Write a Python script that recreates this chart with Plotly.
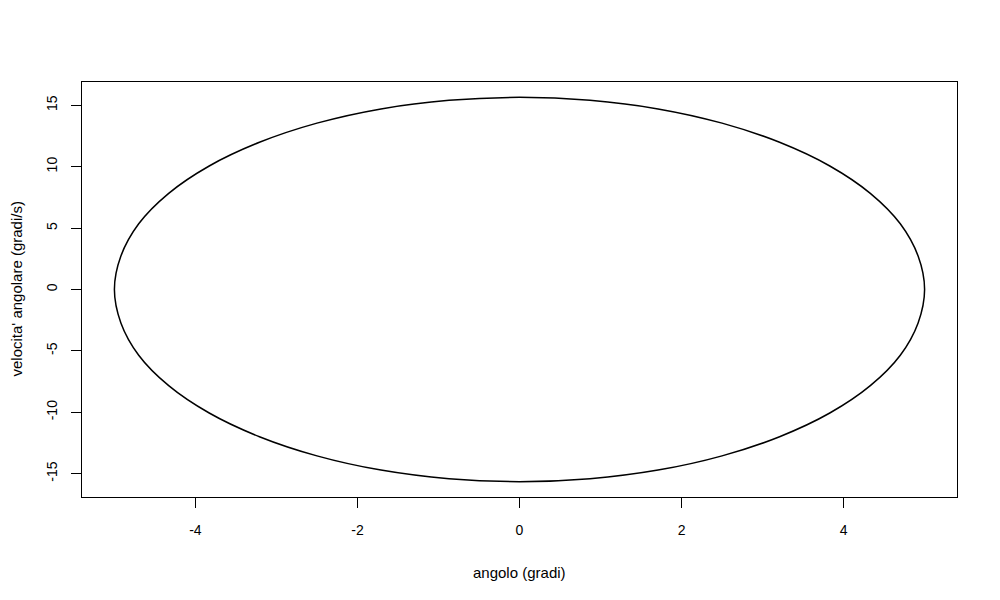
import plotly.graph_objects as go

# Phase portrait values (angle in degrees, angular velocity in deg/s)
angolo = [5.00, 4.92, 4.70, 4.33, 3.83, 3.21, 2.50, 1.71, 0.87, 0.00,
          -0.87, -1.71, -2.50, -3.21, -3.83, -4.33, -4.70, -4.92, -5.00,
          -4.92, -4.70, -4.33, -3.83, -3.21, -2.50, -1.71, -0.87, 0.00,
          0.87, 1.71, 2.50, 3.21, 3.83, 4.33, 4.70, 4.92, 5.00]
velocita = [0.00, 2.72, 5.35, 7.83, 10.06, 11.99, 13.55, 14.71, 15.41, 15.65,
            15.41, 14.71, 13.55, 11.99, 10.06, 7.83, 5.35, 2.72, 0.00,
            -2.72, -5.35, -7.83, -10.06, -11.99, -13.55, -14.71, -15.41, -15.65,
            -15.41, -14.71, -13.55, -11.99, -10.06, -7.83, -5.35, -2.72, 0.00]

x_ticks = [-4, -2, 0, 2, 4]
y_ticks = [-15, -10, -5, 0, 5, 10, 15]

fig = go.Figure()
fig.add_trace(go.Scatter(
    x=angolo, y=velocita, mode="lines",
    line=dict(color="black", width=1.5, shape="spline", smoothing=1.0),
    showlegend=False, hoverinfo="skip"))

tick_font = dict(family="Liberation Sans, Arial, sans-serif", size=14, color="black")
title_font = dict(family="Liberation Sans, Arial, sans-serif", size=15, color="black")

fig.update_layout(
    width=1000, height=600,
    margin=dict(l=74, r=51, t=74, b=111, pad=0),
    paper_bgcolor="white", plot_bgcolor="white",
    font=tick_font,
    xaxis=dict(
        range=[-5.4, 5.4], tickvals=x_ticks, ticktext=[str(v) for v in x_ticks],
        showgrid=False, zeroline=False, showline=True, linecolor="black",
        linewidth=1, mirror=True, ticks="outside", ticklen=10, tickcolor="black",
        tickwidth=1, tickfont=tick_font, automargin=False, ticklabelstandoff=10),
    yaxis=dict(
        range=[-16.9, 16.9], tickvals=y_ticks, ticktext=[str(v) for v in y_ticks],
        showgrid=False, zeroline=False, showline=True, linecolor="black",
        linewidth=1, mirror=True, ticks="outside", ticklen=10, tickcolor="black",
        tickwidth=1, tickangle=-90, tickfont=tick_font, automargin=False,
        ticklabelstandoff=8),
    annotations=[
        dict(text="angolo (gradi)", xref="paper", yref="paper",
             x=0.5, y=-75 / 415, xanchor="center", yanchor="middle",
             showarrow=False, font=title_font),
        dict(text="velocita' angolare (gradi/s)", xref="paper", yref="paper",
             x=-66 / 875, y=0.5, xanchor="center", yanchor="middle",
             textangle=-90, showarrow=False, font=title_font),
    ],
)

fig.write_html("out.html")
